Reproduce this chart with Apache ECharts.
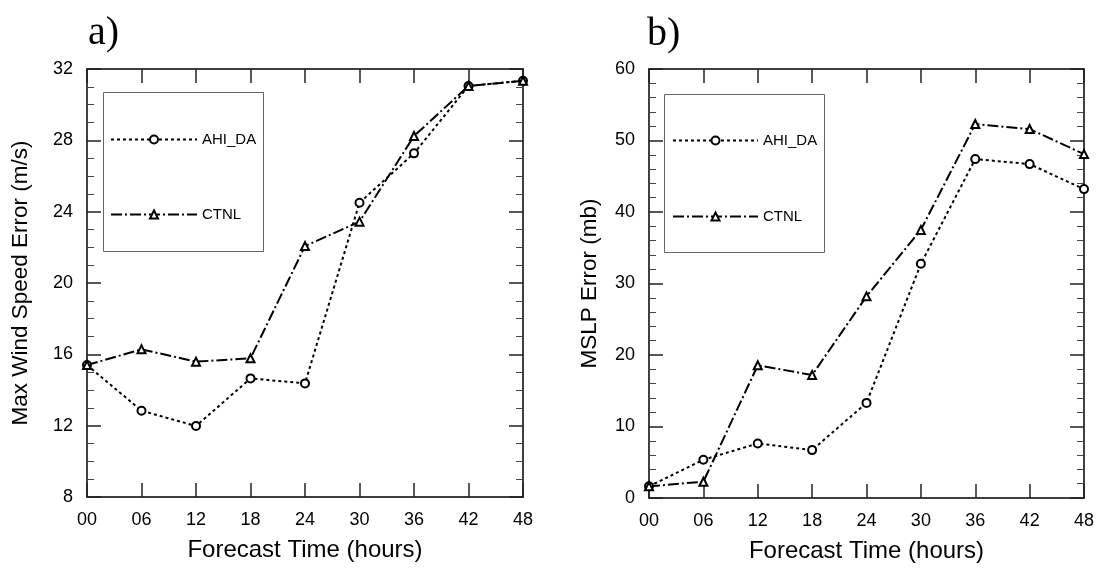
<!DOCTYPE html>
<html><head><meta charset="utf-8">
<script src="https://cdn.jsdelivr.net/npm/echarts@6/dist/echarts.min.js"></script>
<style>html,body{margin:0;padding:0;background:#fff}#c{width:1102px;height:571px}</style>
</head><body><div id="c"></div>
<script>
const hours = [0, 6, 12, 18, 24, 30, 36, 42, 48];
const hourLabels = ['00', '06', '12', '18', '24', '30', '36', '42', '48'];
const seriesNames = ['AHI_DA', 'CTNL'];
const windAHI = [15.4, 12.84, 11.98, 14.65, 14.37, 24.5, 27.27, 31.05, 31.34];
const windCTNL = [15.4, 16.28, 15.59, 15.78, 22.07, 23.44, 28.24, 31.05, 31.34];
const mslpAHI = [1.63, 5.35, 7.63, 6.7, 13.3, 32.75, 47.4, 46.7, 43.2];
const mslpCTNL = [1.63, 2.28, 18.56, 17.2, 28.2, 37.5, 52.3, 51.6, 48.1];
const panelLabels = ['a)', 'b)'];
const yTitles = ['Max Wind Speed Error (m/s)', 'MSLP Error (mb)'];
const xTitle = 'Forecast Time (hours)';

const FONT = "'Liberation Sans', Arial, sans-serif";
const axisLineStyle = { color: '#000', width: 1.5 };
const tickStyle = { color: '#222', width: 1.5 };

function xAxes(gi) {
  const base = {
    gridIndex: gi, type: 'value', min: 0, max: 48, interval: 6,
    axisLine: { show: true, onZero: false, lineStyle: axisLineStyle },
    axisTick: { show: true, inside: true, length: 14, lineStyle: tickStyle },
    splitLine: { show: false }
  };
  return [
    Object.assign({}, base, {
      position: 'bottom',
      axisLabel: { show: true, margin: 14, fontSize: 18, color: '#000', fontFamily: FONT,
        formatter: v => hourLabels[hours.indexOf(v)] },
      name: xTitle, nameLocation: 'middle', nameGap: 41,
      nameTextStyle: { fontSize: 24, color: '#000', fontFamily: FONT }
    }),
    Object.assign({}, base, { position: 'top', axisLabel: { show: false } })
  ];
}

function yAxes(gi, min, max, interval, minorSplit, name, nameGap) {
  const base = {
    gridIndex: gi, type: 'value', min: min, max: max, interval: interval,
    axisLine: { show: true, onZero: false, lineStyle: axisLineStyle },
    axisTick: { show: true, inside: true, length: 14, lineStyle: tickStyle },
    minorTick: { show: true, splitNumber: minorSplit, length: 7, lineStyle: { color: '#444', width: 1 } },
    splitLine: { show: false }, minorSplitLine: { show: false }
  };
  return [
    Object.assign({}, base, {
      position: 'left',
      axisLabel: { show: true, margin: 14, fontSize: 18, color: '#000', fontFamily: FONT },
      name: name, nameLocation: 'middle', nameGap: nameGap,
      nameTextStyle: { fontSize: 22.5, color: '#000', fontFamily: FONT }
    }),
    Object.assign({}, base, { position: 'right', axisLabel: { show: false } })
  ];
}

const ahiLine = { color: '#000', width: 2, type: [3, 3] };
const ctnlLine = { color: '#000', width: 2, type: [11, 3, 2, 3] };

function mkSeries(name, vals, xi, yi, sym, line) {
  return {
    name: name, type: 'line', xAxisIndex: xi, yAxisIndex: yi,
    data: hours.map((h, i) => [h, vals[i]]),
    symbol: sym, symbolSize: 8, showAllSymbol: true,
    itemStyle: { color: '#000', borderColor: '#222', borderWidth: 1 },
    lineStyle: line, emphasis: { disabled: true }, animation: false, z: 3
  };
}

const titleStyle = { fontFamily: "'Liberation Serif', serif", fontSize: 40, fontWeight: 'normal', color: '#000' };

const chart = echarts.init(document.getElementById('c'), null, { renderer: 'canvas' });
chart.setOption({
  backgroundColor: '#fff',
  animation: false,
  title: [
    { text: panelLabels[0], left: 88, top: 13, padding: 0, textStyle: titleStyle },
    { text: panelLabels[1], left: 647, top: 14, padding: 0, textStyle: titleStyle }
  ],
  grid: [
    { left: 87, top: 69, width: 436, height: 428, show: false },
    { left: 649, top: 69, width: 435, height: 429, show: false }
  ],
  xAxis: xAxes(0).concat(xAxes(1)),
  yAxis: yAxes(0, 8, 32, 4, 4, yTitles[0], 55).concat(yAxes(1, 0, 60, 10, 5, yTitles[1], 48)),
  legend: [
    { data: seriesNames, orient: 'vertical', left: 110, top: 132, itemWidth: 86, itemHeight: 10, itemGap: 60,
      padding: 0, selectedMode: false, textStyle: { fontSize: 15, color: '#000', fontFamily: FONT } },
    { data: seriesNames, orient: 'vertical', left: 672, top: 133, itemWidth: 85, itemHeight: 10, itemGap: 61,
      padding: 0, selectedMode: false, textStyle: { fontSize: 15, color: '#000', fontFamily: FONT } }
  ],
  graphic: [
    { type: 'rect', shape: { x: 103.5, y: 92.5, width: 160, height: 159 }, style: { fill: 'none', stroke: '#666', lineWidth: 1 }, z: 1 },
    { type: 'rect', shape: { x: 664.5, y: 94.5, width: 160, height: 158 }, style: { fill: 'none', stroke: '#666', lineWidth: 1 }, z: 1 }
  ],
  series: [
    mkSeries(seriesNames[0], windAHI, 0, 0, 'emptyCircle', ahiLine),
    mkSeries(seriesNames[1], windCTNL, 0, 0, 'emptyTriangle', ctnlLine),
    mkSeries(seriesNames[0], mslpAHI, 2, 2, 'emptyCircle', ahiLine),
    mkSeries(seriesNames[1], mslpCTNL, 2, 2, 'emptyTriangle', ctnlLine)
  ]
});
</script>
</body></html>
